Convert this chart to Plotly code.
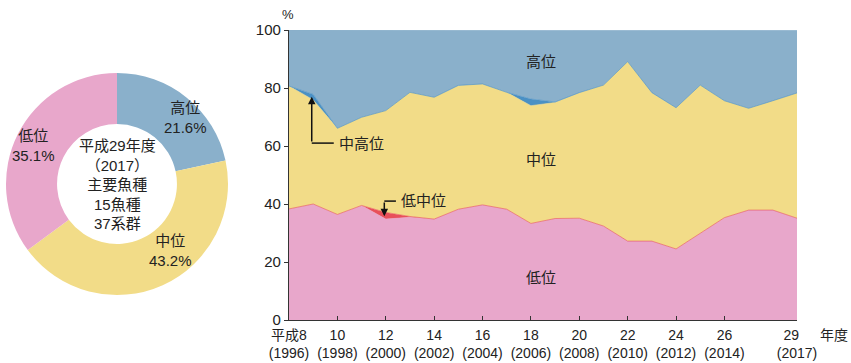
import plotly.graph_objects as go

# ---- data ----
years = list(range(8, 30))  # 平成8..29
low = [38.3, 40.0, 36.4, 39.5, 34.8, 35.4, 34.8, 38.2, 39.7, 38.2, 33.3,
       35.0, 35.1, 32.4, 27.2, 27.2, 24.5, 29.9, 35.3, 37.9, 37.9, 35.1]
low_mid = [0, 0, 0, 0, 2.3, 0.3, 0, 0, 0, 0, 0,
           0, 0, 0, 0, 0, 0, 0, 0, 0, 0, 0]
mid = [42.4, 35.9, 29.7, 30.4, 35.1, 42.8, 42.0, 42.7, 41.7, 40.3, 40.6,
       40.0, 43.3, 48.6, 61.9, 51.2, 48.7, 51.1, 40.3, 35.1, 37.7, 43.2]
mid_high = [0, 1.9, 0, 0, 0, 0, 0, 0, 0, 0, 2.3,
            0.2, 0, 0, 0, 0, 0, 0, 0, 0, 0, 0]
high = [19.3, 22.2, 33.9, 30.1, 27.8, 21.5, 23.2, 19.1, 18.6, 21.5, 23.8,
        24.8, 21.6, 19.0, 10.9, 21.6, 26.8, 19.0, 24.4, 27.0, 24.4, 21.6]

tick_vals = [8, 10, 12, 14, 16, 18, 20, 22, 24, 26, 29]
tick_text = ["平成8<br>(1996)", "10<br>(1998)", "12<br>(2000)", "14<br>(2002)", "16<br>(2004)",
             "18<br>(2006)", "20<br>(2008)", "22<br>(2010)", "24<br>(2012)",
             "26<br>(2014)", "29   <br>(2017)"]

pie_labels = ["高位", "中位", "低位"]
pie_values = [21.6, 43.2, 35.1]

C_HIGH = "#8AB0CB"
C_MIDHIGH = "#4A90C4"
C_MID = "#F2DC88"
C_LOWMID = "#E8505A"
C_LOW = "#E8A7CB"

FONT = "Liberation Sans, Noto Sans CJK JP, sans-serif"

fig = go.Figure()

series = [("低位", low, C_LOW), ("低中位", low_mid, C_LOWMID), ("中位", mid, C_MID),
          ("中高位", mid_high, C_MIDHIGH), ("高位", high, C_HIGH)]
for name, vals, col in series:
    fig.add_trace(go.Scatter(
        x=years, y=vals, name=name, stackgroup="one", mode="lines",
        line=dict(width=0.6, color=col), fillcolor=col, hoverinfo="skip",
        xaxis="x", yaxis="y"))

fig.add_trace(go.Pie(
    labels=pie_labels, values=pie_values, hole=0.54, sort=False,
    direction="clockwise", rotation=0,
    marker=dict(colors=[C_HIGH, C_MID, C_LOW], line=dict(width=0)),
    textinfo="none", hoverinfo="skip",
    domain=dict(x=[6 / 851, 228 / 851], y=[(363 - 295) / 363, (363 - 73) / 363])))

fig.update_layout(
    width=851, height=363,
    margin=dict(l=0, r=0, t=0, b=0, autoexpand=False),
    paper_bgcolor="white", plot_bgcolor="white",
    showlegend=False,
    font=dict(family=FONT, size=14, color="#222"),
    xaxis=dict(domain=[289 / 851, 797 / 851], range=[8, 29], tickvals=tick_vals,
               ticktext=tick_text, ticks="inside", ticklen=4, tickcolor="#333",
               showline=True, linecolor="#333", linewidth=1.2, showgrid=False,
               zeroline=False, automargin=False, ticklabelstandoff=2,
               tickfont=dict(size=14, family=FONT, color="#222")),
    yaxis=dict(domain=[(363 - 320) / 363, (363 - 30) / 363], range=[0, 100],
               tickvals=[0, 20, 40, 60, 80, 100], ticks="outside", ticklen=4,
               tickcolor="#333", showline=True, linecolor="#333", linewidth=1.2,
               showgrid=False, zeroline=False, automargin=False,
               tickfont=dict(size=15, family=FONT, color="#222")),
)

ann = []
ann.append(dict(text="年度", xref="paper", yref="paper", x=818 / 851, y=(363 - 335) / 363,
                xanchor="left", yanchor="middle", showarrow=False, font=dict(size=14)))
ann.append(dict(text="%", xref="paper", yref="paper", x=288 / 851, y=(363 - 15) / 363,
                xanchor="center", yanchor="middle", showarrow=False, font=dict(size=13)))
# area labels
for t, yv in [("高位", 89.3), ("中位", 55.2), ("低位", 14.8)]:
    ann.append(dict(text=t, x=18.4, y=yv, xref="x", yref="y", showarrow=False,
                    xanchor="center", font=dict(size=15)))
# 中高位 arrow (vertical segment)
ann.append(dict(x=8.94, y=77.0, ax=8.94, ay=61.0, xref="x", yref="y", axref="x", ayref="y",
                text="", showarrow=True, arrowhead=2, arrowsize=1, arrowwidth=1.5,
                arrowcolor="#111"))
ann.append(dict(text="中高位", x=9.98, y=61.0, xref="x", yref="y", xanchor="left",
                yanchor="middle", showarrow=False, font=dict(size=15)))
# 低中位 arrow
ann.append(dict(x=11.94, y=35.8, ax=11.94, ay=41.0, xref="x", yref="y", axref="x", ayref="y",
                text="", showarrow=True, arrowhead=2, arrowsize=1, arrowwidth=1.5,
                arrowcolor="#111"))
ann.append(dict(text="低中位", x=12.55, y=41.2, xref="x", yref="y", xanchor="left",
                yanchor="middle", showarrow=False, font=dict(size=15)))
# donut labels
ann.append(dict(text="高位<br>21.6%", xref="paper", yref="paper", x=185 / 851,
                y=(363 - 118) / 363, xanchor="center", yanchor="middle",
                showarrow=False, font=dict(size=15)))
ann.append(dict(text="中位<br>43.2%", xref="paper", yref="paper", x=170 / 851,
                y=(363 - 250) / 363, xanchor="center", yanchor="middle",
                showarrow=False, font=dict(size=15)))
ann.append(dict(text="低位<br>35.1%", xref="paper", yref="paper", x=33 / 851,
                y=(363 - 145) / 363, xanchor="center", yanchor="middle",
                showarrow=False, font=dict(size=15)))
ann.append(dict(text="平成29年度<br>（2017）<br>主要魚種<br>15魚種<br>37系群", xref="paper",
                yref="paper", x=117 / 851, y=(363 - 185) / 363, xanchor="center",
                yanchor="middle", showarrow=False, font=dict(size=15)))
fig.update_layout(annotations=ann)

fig.add_shape(type="line", xref="x", yref="y", x0=8.94, y0=61.0, x1=9.85, y1=61.0,
              line=dict(color="#111", width=1.5))
fig.add_shape(type="line", xref="x", yref="y", x0=11.94, y0=41.0, x1=12.42, y1=41.0,
              line=dict(color="#111", width=1.5))

fig.write_html("out.html")
